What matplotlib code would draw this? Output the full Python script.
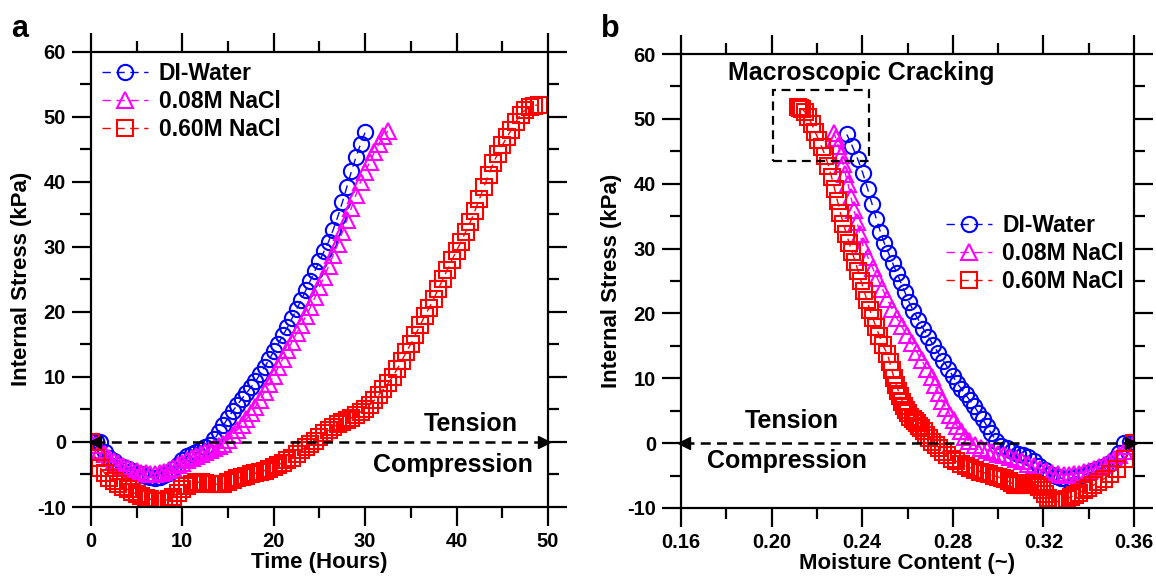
import matplotlib
matplotlib.use("Agg")
import matplotlib.pyplot as plt
from matplotlib.patches import Rectangle

plt.rcParams['font.family'] = ['Liberation Sans', 'DejaVu Sans']
plt.rcParams['font.weight'] = 'bold'
plt.rcParams['axes.labelweight'] = 'bold'
plt.rcParams['axes.unicode_minus'] = False

# ---- data ----
labels = ['DI-Water', '0.08M NaCl', '0.60M NaCl']

# DI-Water
t_di = [0, 0.5, 1, 1.5, 2, 2.5, 3, 3.5, 4, 4.5, 5, 5.5, 6, 6.5, 7, 7.5, 8, 8.5, 9, 9.5,
        10, 10.5, 11, 11.5, 12, 12.5, 13, 13.5, 14, 14.5, 15, 15.5, 16, 16.5, 17, 17.5,
        18, 18.5, 19, 19.5, 20, 20.5, 21, 21.5, 22, 22.5, 23, 23.5, 24, 24.5, 25, 25.5,
        26, 26.5, 27, 27.5, 28, 28.5, 29, 29.5, 30]
s_di = [0, 0.2, 0, -1.5, -2.4, -3.0, -3.5, -3.9, -4.2, -4.5, -4.8, -5.0, -5.2, -5.4, -5.5,
        -5.4, -5.1, -4.8, -4.2, -3.5, -2.7, -2.2, -1.9, -1.6, -1.2, -0.8, -0.4, 0.4, 1.5,
        2.6, 3.7, 4.7, 5.7, 6.6, 7.5, 8.4, 9.3, 10.4, 11.5, 12.7, 13.9, 15.1, 16.4, 17.6,
        19.0, 20.4, 21.8, 23.3, 24.8, 26.3, 27.8, 29.3, 30.8, 32.6, 34.6, 36.8, 39.2, 41.6,
        43.8, 45.8, 47.6]
m_di = [0.3600, 0.3580, 0.3557, 0.3535, 0.3514, 0.3492, 0.3471, 0.3450, 0.3428, 0.3407,
        0.3385, 0.3364, 0.3342, 0.3321, 0.3300, 0.3277, 0.3254, 0.3230, 0.3206, 0.3182,
        0.3158, 0.3134, 0.3110, 0.3086, 0.3062, 0.3038, 0.3014, 0.2990, 0.2970, 0.2951,
        0.2932, 0.2913, 0.2894, 0.2875, 0.2856, 0.2837, 0.2818, 0.2799, 0.2780, 0.2758,
        0.2736, 0.2714, 0.2692, 0.2670, 0.2648, 0.2626, 0.2606, 0.2588, 0.2570, 0.2552,
        0.2534, 0.2516, 0.2498, 0.2480, 0.2462, 0.2444, 0.2424, 0.2403, 0.2380, 0.2356,
        0.2332]

# 0.08M NaCl
t_08 = [0, 0.5, 1, 1.5, 2, 2.5, 3, 3.5, 4, 4.5, 5, 5.5, 6, 6.5, 7, 7.5, 8, 8.5, 9, 9.5,
        10, 10.5, 11, 11.5, 12, 12.5, 13, 13.5, 14, 14.5, 15, 15.5, 16, 16.5, 17, 17.5,
        18, 18.5, 19, 19.5, 20, 20.5, 21, 21.5, 22, 22.5, 23, 23.5, 24, 24.5, 25, 25.5,
        26, 26.5, 27, 27.5, 28, 28.5, 29, 29.5, 30, 30.5, 31, 31.5, 32, 32.5]
s_08 = [0, -0.5, -1.2, -1.8, -2.4, -2.9, -3.3, -3.7, -4.0, -4.3, -4.5, -4.7, -4.8, -4.9,
        -4.9, -4.8, -4.6, -4.3, -4.0, -3.6, -3.2, -2.8, -2.5, -2.2, -1.9, -1.6, -1.3, -1.0,
        -0.7, -0.3, 0.3, 1.0, 1.8, 2.6, 3.5, 4.4, 5.4, 6.5, 7.7, 8.9, 10.2, 11.5, 12.8,
        14.1, 15.4, 16.7, 18.0, 19.3, 20.7, 22.2, 23.8, 25.4, 27.0, 28.7, 30.4, 32.2, 34.1,
        36.0, 38.0, 40.0, 41.5, 43.0, 44.5, 45.8, 47.0, 47.8]
m_08 = [0.3600, 0.3578, 0.3556, 0.3534, 0.3512, 0.3490, 0.3468, 0.3446, 0.3424, 0.3402,
        0.3380, 0.3358, 0.3336, 0.3314, 0.3290, 0.3264, 0.3238, 0.3211, 0.3185, 0.3159,
        0.3133, 0.3106, 0.3080, 0.3054, 0.3028, 0.3001, 0.2975, 0.2949, 0.2923, 0.2896,
        0.2870, 0.2853, 0.2837, 0.2820, 0.2804, 0.2787, 0.2771, 0.2754, 0.2738, 0.2722,
        0.2706, 0.2684, 0.2662, 0.2640, 0.2618, 0.2596, 0.2574, 0.2552, 0.2532, 0.2510,
        0.2489, 0.2467, 0.2446, 0.2424, 0.2404, 0.2390, 0.2377, 0.2363, 0.2350, 0.2337,
        0.2326, 0.2316, 0.2305, 0.2295, 0.2284, 0.2274]

# 0.60M NaCl
t_60 = [0, 0.5, 1, 1.5, 2, 2.5, 3, 3.5, 4, 4.5, 5, 5.5, 6, 6.5, 7, 7.5, 8, 8.5, 9, 9.5,
        10, 10.5, 11, 11.5, 12, 12.5, 13, 13.5, 14, 14.5, 15, 15.5, 16, 16.5, 17, 17.5,
        18, 18.5, 19, 19.5, 20, 20.5, 21, 21.5, 22, 22.5, 23, 23.5, 24, 24.5, 25, 25.5,
        26, 26.5, 27, 27.5, 28, 28.5, 29, 29.5, 30, 30.5, 31, 31.5, 32, 32.5, 33, 33.5,
        34, 34.5, 35, 35.5, 36, 36.5, 37, 37.5, 38, 38.5, 39, 39.5, 40, 40.5, 41, 41.5,
        42, 42.5, 43, 43.5, 44, 44.5, 45, 45.5, 46, 46.5, 47, 47.5, 48, 48.5, 49]
s_60 = [0, -2.5, -4.0, -4.8, -5.5, -6.0, -6.5, -6.9, -7.3, -7.7, -8.0, -8.3, -8.6, -8.8,
        -9.0, -9.0, -9.0, -8.8, -8.4, -7.8, -7.2, -6.7, -6.4, -6.2, -6.2, -6.3, -6.4, -6.5,
        -6.5, -6.4, -6.2, -5.9, -5.6, -5.4, -5.2, -5.0, -4.8, -4.6, -4.4, -4.1, -3.8, -3.5,
        -3.2, -2.8, -2.4, -1.9, -1.3, -0.8, -0.3, 0.2, 0.8, 1.3, 1.8, 2.3, 2.7, 3.1, 3.4,
        3.7, 4.1, 4.6, 5.1, 5.7, 6.4, 7.2, 8.1, 9.0, 10.0, 11.2, 12.5, 13.8, 15.1, 16.5,
        17.9, 19.3, 20.6, 22.0, 23.5, 25.0, 26.5, 28.0, 29.4, 30.8, 32.3, 33.8, 35.5, 37.3,
        39.2, 41.0, 42.8, 44.3, 45.6, 46.8, 48.0, 49.2, 50.3, 51.0, 51.5, 51.7, 51.8]
m_60 = [0.3600, 0.3560, 0.3525, 0.3495, 0.3468, 0.3443, 0.3420, 0.3398, 0.3377, 0.3357,
        0.3338, 0.3320, 0.3303, 0.3287, 0.3272, 0.3258, 0.3245, 0.3232, 0.3219, 0.3206,
        0.3193, 0.3180, 0.3167, 0.3154, 0.3141, 0.3128, 0.3115, 0.3102, 0.3089, 0.3075,
        0.3061, 0.3046, 0.3031, 0.3015, 0.2998, 0.2980, 0.2961, 0.2941, 0.2921, 0.2900,
        0.2878, 0.2856, 0.2835, 0.2815, 0.2795, 0.2776, 0.2758, 0.2741, 0.2725, 0.2710,
        0.2696, 0.2683, 0.2671, 0.2660, 0.2650, 0.2640, 0.2631, 0.2622, 0.2613, 0.2604,
        0.2595, 0.2586, 0.2577, 0.2568, 0.2559, 0.2550, 0.2541, 0.2531, 0.2521, 0.2511,
        0.2490, 0.2476, 0.2461, 0.2446, 0.2433, 0.2421, 0.2408, 0.2395, 0.2382, 0.2369,
        0.2356, 0.2343, 0.2330, 0.2317, 0.2304, 0.2291, 0.2278, 0.2265, 0.2251, 0.2237,
        0.2222, 0.2207, 0.2192, 0.2177, 0.2162, 0.2148, 0.2136, 0.2125, 0.2115]

colors = ['#0000ff', '#ff00ff', '#ff0000']
markers = ['o', '^', 's']

fig = plt.figure(figsize=(11.56, 5.77), dpi=100)
ax1 = fig.add_axes([0.0787, 0.1213, 0.3953, 0.7894])
ax2 = fig.add_axes([0.5891, 0.1196, 0.3919, 0.7868])


def style_axes(ax):
    for sp in ax.spines.values():
        sp.set_linewidth(1.6)
    ax.tick_params(which='both', direction='out', top=True, right=True,
                   width=1.6, labelsize=14.5)
    ax.tick_params(which='major', length=14)
    ax.tick_params(which='minor', length=8)
    ax.tick_params(axis='both', pad=4)


def draw_series(ax, xs, ys):
    for x, y, c, m, lab in zip(xs, ys, colors, markers, labels):
        ax.plot(x, y, ls=(0, (6, 4)), lw=1.0, color=c, marker=m, ms=11,
                mfc='none', mec=c, mew=1.5, label=lab)


def zero_line(ax, x0, x1):
    ax.plot([x0, x1], [0, 0], ls=(0, (4, 2.5)), lw=1.8, color='black', zorder=5)
    ax.plot([x0], [0], marker='<', ms=8, color='black', zorder=6, clip_on=False)
    ax.plot([x1], [0], marker='>', ms=8, color='black', zorder=6, clip_on=False)


# ---- panel a ----
draw_series(ax1, [t_di, t_08, t_60], [s_di, s_08, s_60])
zero_line(ax1, 0.4, 49.6)
ax1.set_xlim(0, 50)
ax1.set_ylim(-10, 60)
ax1.set_xticks([0, 10, 20, 30, 40, 50])
ax1.set_xticks([5, 15, 25, 35, 45], minor=True)
ax1.set_yticks([-10, 0, 10, 20, 30, 40, 50, 60])
ax1.set_yticks([-5, 5, 15, 25, 35, 45, 55], minor=True)
style_axes(ax1)
ax1.set_xlabel('Time (Hours)', fontsize=16, labelpad=1)
ax1.set_ylabel('Internal Stress (kPa)', fontsize=16, labelpad=4)
ax1.text(41.6, 2.7, 'Tension', fontsize=18, ha='center', va='center')
ax1.text(39.6, -3.6, 'Compression', fontsize=18, ha='center', va='center')
ax1.legend(loc='upper left', bbox_to_anchor=(0.025, 0.978), frameon=False,
           fontsize=16.5, handlelength=2.0, handletextpad=0.45, labelspacing=0.22,
           borderpad=0, borderaxespad=0)

# ---- panel b ----
draw_series(ax2, [m_di, m_08, m_60], [s_di, s_08, s_60])
zero_line(ax2, 0.1615, 0.3585)
ax2.add_patch(Rectangle((0.2006, 43.5), 0.0424, 10.9, fill=False, ls=(0, (4, 2.5)),
                        lw=1.6, ec='black', zorder=5))
ax2.set_xlim(0.16, 0.36)
ax2.set_ylim(-10, 60)
ax2.set_xticks([0.16, 0.20, 0.24, 0.28, 0.32, 0.36])
ax2.set_xticklabels(['0.16', '0.20', '0.24', '0.28', '0.32', '0.36'])
ax2.set_xticks([0.18, 0.22, 0.26, 0.30, 0.34], minor=True)
ax2.set_yticks([-10, 0, 10, 20, 30, 40, 50, 60])
ax2.set_yticks([-5, 5, 15, 25, 35, 45, 55], minor=True)
style_axes(ax2)
ax2.set_xlabel('Moisture Content (~)', fontsize=16, labelpad=1)
ax2.set_ylabel('Internal Stress (kPa)', fontsize=16, labelpad=4)
ax2.text(0.209, 3.4, 'Tension', fontsize=18, ha='center', va='center')
ax2.text(0.2066, -2.7, 'Compression', fontsize=18, ha='center', va='center')
ax2.text(0.2395, 57.0, 'Macroscopic Cracking', fontsize=18, ha='center', va='center')
ax2.legend(loc='upper left', bbox_to_anchor=(0.585, 0.648), frameon=False,
           fontsize=16.5, handlelength=2.0, handletextpad=0.45, labelspacing=0.22,
           borderpad=0, borderaxespad=0)

fig.text(0.010, 0.975, 'a', fontsize=22, va='top', ha='left')
fig.text(0.520, 0.975, 'b', fontsize=22, va='top', ha='left')

fig.savefig('out.png', dpi=100)
